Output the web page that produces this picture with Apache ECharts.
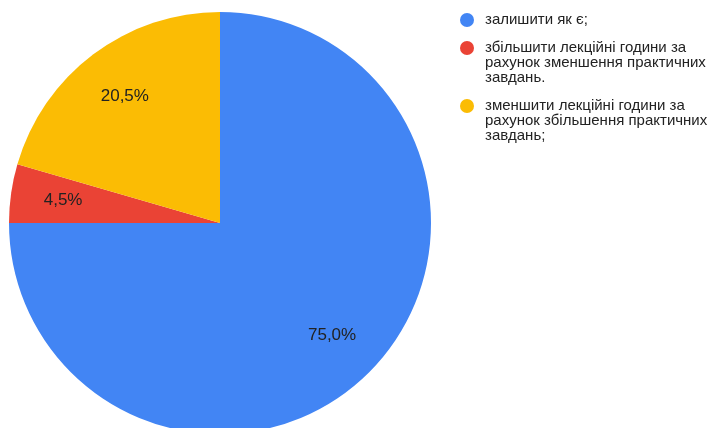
<!DOCTYPE html>
<html>
<head>
<meta charset="utf-8">
<script src="https://cdn.jsdelivr.net/npm/echarts@6/dist/echarts.min.js"></script>
<style>
  html, body { margin: 0; padding: 0; background: #fff; }
  #chart { width: 712px; height: 428px; }
</style>
</head>
<body>
<div id="chart"></div>
<script>
// answers and their shares, %
var categories = [
    'залишити як є;',
    'збільшити лекційні години за\nрахунок зменшення практичних\nзавдань.',
    'зменшити лекційні години за\nрахунок збільшення практичних\nзавдань;'
];
var shares = [75.0, 4.5, 20.5];
var colors = ['#4285F4', '#EA4335', '#FBBC04'];

var font = "Arial, 'Liberation Sans', sans-serif";
var lineH = 15;

var pieData = categories.map(function (name, i) {
    return { name: name, value: shares[i] };
});

var fmt = function (p) {
    return p.value.toFixed(1).replace('.', ',') + '%';
};

// one legend per item; leading blank lines push the first line onto the icon
var iconCenters = [20, 48, 106];
var legends = categories.map(function (name, i) {
    var extra = name.split('\n').length - 1;
    var pad = '';
    for (var k = 0; k < extra; k++) pad += '\n';
    var boxH = (extra * 2 + 1) * lineH;
    return {
        orient: 'vertical',
        left: 460,
        top: iconCenters[i] - boxH / 2,
        padding: 0,
        icon: 'circle',
        itemWidth: 14,
        itemHeight: 14,
        selectedMode: false,
        data: [name],
        formatter: function (n) { return pad + n; },
        textStyle: {
            fontFamily: font,
            fontSize: 15,
            lineHeight: lineH,
            color: '#222',
            padding: [0, 0, 0, 6]
        }
    };
});

var myChart = echarts.init(document.getElementById('chart'));
myChart.setOption({
    animation: false,
    color: colors,
    legend: legends,
    series: [
        {
            name: 'main',
            type: 'pie',
            center: [220, 223],
            radius: [0, 211],
            startAngle: 90,
            clockwise: true,
            label: { show: false },
            labelLine: { show: false },
            itemStyle: { borderWidth: 0 },
            emphasis: { scale: false },
            data: pieData
        },
        {
            // transparent ring only for placing labels further out
            name: 'labels',
            type: 'pie',
            center: [220, 223],
            radius: [100, 211],
            startAngle: 90,
            clockwise: true,
            silent: true,
            itemStyle: { color: 'rgba(0,0,0,0)', borderWidth: 0 },
            label: {
                show: true,
                position: 'inside',
                formatter: fmt,
                fontFamily: font,
                fontSize: 17,
                color: '#222'
            },
            labelLine: { show: false },
            emphasis: { disabled: true },
            data: pieData
        }
    ]
});
</script>
</body>
</html>
